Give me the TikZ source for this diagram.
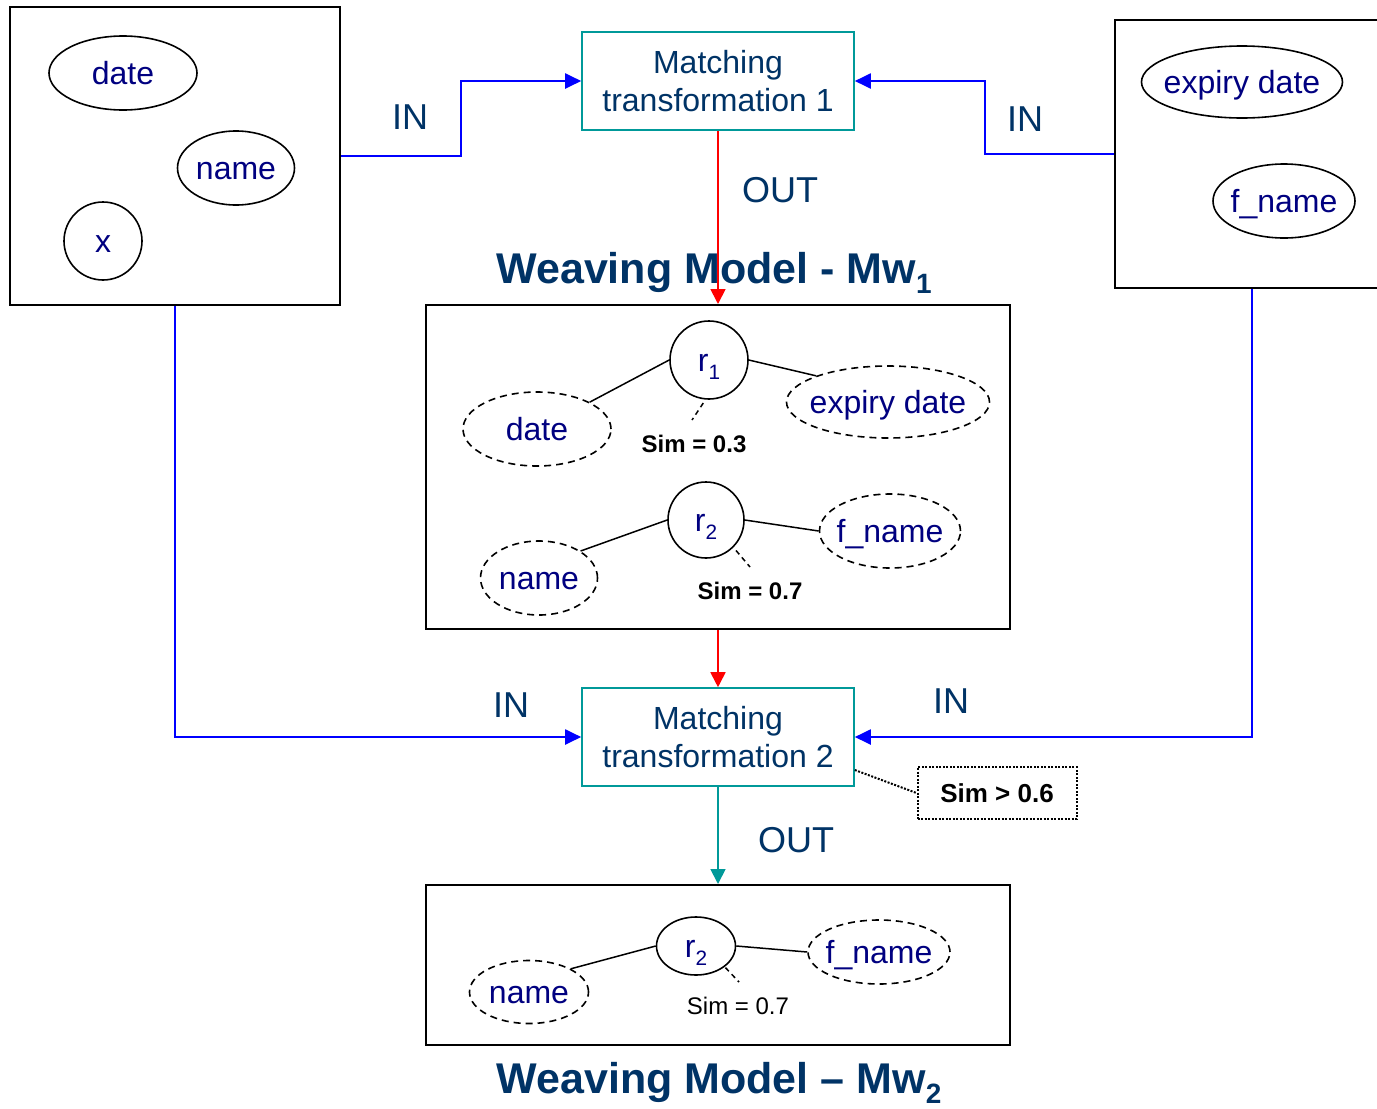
\documentclass[tikz,border=0pt]{standalone}
\usepackage{fontspec}
\setmainfont{Liberation Sans}
\usetikzlibrary{shapes.geometric,arrows.meta,calc}

\definecolor{navytext}{RGB}{0,0,128}
\definecolor{labelblue}{RGB}{0,51,102}
\definecolor{tealline}{RGB}{0,153,153}

% zero-width text so that the ellipse keeps its own size
\newcommand\zw[1]{\makebox[0pt]{#1}}
% lowered, smaller index (r_1, Mw_1, ...)
\newcommand\idx[1]{\raisebox{-0.25em}{\scalebox{0.65}{#1}}}

\begin{document}
\begin{tikzpicture}[x=1pt,y=-1pt,
  mbox/.style={draw=black, line width=2pt, inner sep=0pt},
  mtbox/.style={draw=tealline, line width=1.6pt, minimum width=272pt,
    minimum height=98pt, align=center, text=labelblue, inner sep=0pt,
    font=\fontsize{32}{38}\selectfont},
  attr/.style={ellipse, draw=black, line width=1.6pt, inner sep=0pt,
    text=navytext, font=\fontsize{32}{38}\selectfont,
    text height=22pt, text depth=0pt},
  wattr/.style={attr, dash pattern=on 7pt off 5pt},
  rel/.style={draw=black, line width=1.6pt, inner sep=0pt, text=navytext,
    font=\fontsize{32}{38}\selectfont, text height=30pt, text depth=8pt},
  link/.style={draw=black, line width=1.5pt},
  simlink/.style={draw=black, line width=1.5pt, dash pattern=on 5pt off 4pt},
  simtxt/.style={inner sep=0pt, font=\fontsize{24}{28}\selectfont\bfseries},
  inarrow/.style={draw=blue, line width=2pt, -{Triangle[length=16pt,width=15pt]}},
  outarrow/.style={line width=1.8pt, -{Triangle[length=15pt,width=15pt]}},
  tag/.style={text=labelblue, inner sep=0pt, font=\fontsize{36}{40}\selectfont},
  heading/.style={text=labelblue, inner sep=0pt, anchor=base,
    font=\fontsize{43}{50}\selectfont\bfseries}
]
\clip (0,0) rectangle (1377,1109);
\fill[white] (0,0) rectangle (1377,1109);

% ---------- source models ----------
\node[mbox, minimum width=330pt, minimum height=298pt] (lbox) at (175,156) {};
\node[attr, minimum width=148pt, minimum height=74pt] (ldate) at (123,73) {\zw{date}};
\node[attr, minimum width=117pt, minimum height=74pt] (lname) at (236,168) {\zw{name}};
\node[attr, circle, minimum size=78pt] (lx) at (103,241) {\zw{x}};

\node[mbox, minimum width=274pt, minimum height=268pt] (rbox) at (1252,154) {};
\node[attr, minimum width=201pt, minimum height=72pt] (rexp) at (1242,82) {\zw{expiry date}};
\node[attr, minimum width=142pt, minimum height=74pt] (rfname) at (1284,201) {\zw{f\_name}};

% ---------- transformations ----------
\node[mtbox] (mt1) at (718,81) {Matching\\transformation 1};
\node[mtbox] (mt2) at (718,737) {Matching\\transformation 2};

% ---------- weaving model Mw1 ----------
\node[heading] (title1) at (714,283) {Weaving Model - Mw\idx{1}};
\node[mbox, minimum width=584pt, minimum height=324pt] (wm1) at (718,467) {};

\node[rel, circle, minimum size=78pt] (r1) at (709,360) {r\idx{1}};
\node[wattr, minimum width=148pt, minimum height=74pt] (wdate) at (537,429) {\zw{date}};
\node[wattr, minimum width=203pt, minimum height=72pt] (wexp) at (888,402) {\zw{expiry date}};
\node[simtxt] (sim1) at (694,444) {Sim = 0.3};
\coordinate (s1end) at (692,420);

\node[rel, circle, minimum size=76pt] (r2) at (706,520) {r\idx{2}};
\node[wattr, minimum width=117pt, minimum height=74pt] (wname) at (539,578) {\zw{name}};
\node[wattr, minimum width=141pt, minimum height=74pt] (wfname) at (890,531) {\zw{f\_name}};
\node[simtxt] (sim2) at (750,591) {Sim = 0.7};
\coordinate (s2end) at (750,567);

\draw[link] (r1.west) -- (wdate.27);
\draw[link] (r1.east) -- (wexp.160);
\draw[simlink, shorten <=4pt] (r1.265) -- (s1end);
\draw[link] (r2.west) -- (wname.33);
\draw[link] (r2.east) -- (wfname.west);
\draw[simlink, shorten <=4pt] (r2.-45) -- (s2end);

% ---------- weaving model Mw2 ----------
\node[mbox, minimum width=584pt, minimum height=160pt] (wm2) at (718,965) {};
\node[rel, ellipse, minimum width=79pt, minimum height=58pt] (r2b) at (696,946) {r\idx{2}};
\node[wattr, minimum width=119pt, minimum height=63pt] (wname2) at (529,992) {\zw{name}};
\node[wattr, minimum width=142pt, minimum height=64pt] (wfname2) at (879,952) {\zw{f\_name}};
\node[inner sep=0pt, font=\fontsize{24}{28}\selectfont] (sim3) at (738,1006) {Sim = 0.7};
\coordinate (s3end) at (739,982);

\draw[link] (r2b.west) -- (wname2.29);
\draw[link] (r2b.east) -- (wfname2.west);
\draw[simlink, shorten <=1pt] (r2b.-36) -- (s3end);

\node[heading] (title2) at (719,1093) {Weaving Model -- Mw\idx{2}};

% ---------- threshold note ----------
\node[draw=black, line width=2pt, dash pattern=on 2pt off 1.5pt,
  minimum width=159pt, minimum height=52pt, inner sep=0pt,
  font=\fontsize{26}{30}\selectfont\bfseries] (simbox) at (997,793) {Sim > 0.6};
\draw[line width=2pt, dash pattern=on 2pt off 1.5pt] ([yshift=-33pt]mt2.east) -- (simbox.west);

% ---------- connectors ----------
\coordinate (bendA) at (461,0);
\coordinate (bendB) at (985,0);
\draw[inarrow] (lbox.east) -- (lbox.east -| bendA) |- (mt1.west);
\draw[inarrow] (rbox.west) -- (rbox.west -| bendB) |- (mt1.east);
\draw[inarrow] (lbox.south) |- (mt2.west);
\draw[inarrow] (rbox.south) |- (mt2.east);

\draw[outarrow, draw=red, fill=red] (mt1.south) -- (wm1.north);
\draw[outarrow, draw=red, fill=red] (wm1.south) -- (mt2.north);
\draw[outarrow, draw=tealline, fill=tealline] (mt2.south) -- (wm2.north);

% ---------- connector labels ----------
\node[tag] (in1) at (410,117) {IN};
\node[tag] (in2) at (1025,119) {IN};
\node[tag] (out1) at (780,190) {OUT};
\node[tag] (in3) at (511,705) {IN};
\node[tag] (in4) at (951,701) {IN};
\node[tag] (out2) at (796,840) {OUT};
\end{tikzpicture}
\end{document}
